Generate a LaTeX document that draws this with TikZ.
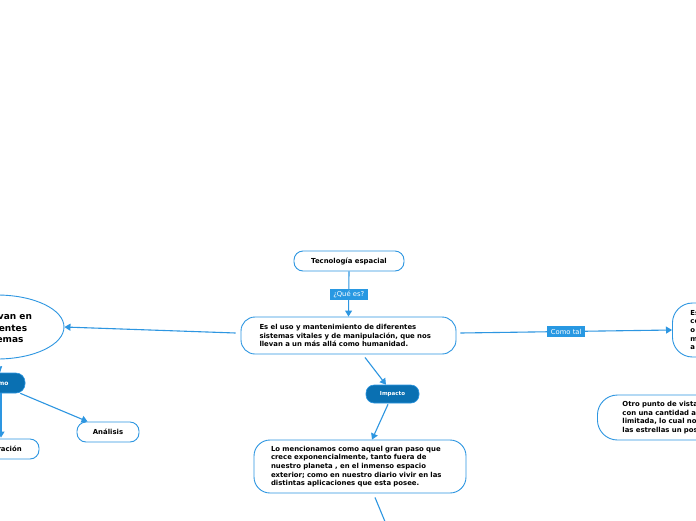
\documentclass[tikz,border=0pt]{standalone}
\usepackage{fontspec}
\setmainfont{DejaVu Sans}
\usetikzlibrary{arrows.meta,calc,shapes.geometric}
\definecolor{lb}{RGB}{45,150,225}
\definecolor{lbfill}{RGB}{40,152,226}
\definecolor{db}{RGB}{10,112,178}
\tikzset{
  box/.style={draw=lb,line width=0.9pt,rounded corners=9pt,fill=white,font=\bfseries\fontsize{6.9}{8.6}\selectfont,text=black,inner sep=0pt},
  dark/.style={draw=lb,line width=0.6pt,fill=db,rounded corners=8pt,text=white,font=\bfseries\fontsize{5.5}{7}\selectfont,inner sep=0pt},
  lab/.style={fill=lbfill,text=white,font=\fontsize{6.8}{7}\selectfont,inner sep=1.5pt,minimum height=11pt,minimum width=38pt},
  conn/.style={draw=lb,line width=1.1pt,-{Triangle[length=6pt,width=7pt]}},
  plain/.style={draw=lb,line width=1.1pt}
}
\begin{document}
\begin{tikzpicture}[x=1pt,y=-1pt]
\useasboundingbox (0,0) rectangle (696,520);
\clip (0,0) rectangle (696,520);
\fill[white] (0,0) rectangle (696,520);
% nodes
\node[box,minimum width=110pt,minimum height=20pt] (tec) at (349,261) {Tecnología espacial};
\node[box,rounded corners=14pt,minimum width=215pt,minimum height=37pt,text width=178pt,align=left] (main) at (348.5,335.5) {Es el uso y mantenimiento de diferentes\\sistemas vitales y de manipulación, que nos\\llevan a un más allá como humanidad.};
\node[draw=lb,line width=0.9pt,ellipse,minimum width=134pt,minimum height=64pt,inner sep=0pt,fill=white] (ell) at (-3,327) {};
\node[font=\bfseries\fontsize{9}{11.5}\selectfont,align=center,inner sep=0pt] (ellt) at (1,328) {Se llevan en\\diferentes\\sistemas};
\node[dark,minimum width=52pt,minimum height=20pt,rounded corners=9pt,font=\bfseries\fontsize{6}{7}\selectfont] (como) at (-1,383) {Como};
\node[box,minimum width=62pt,minimum height=20pt] (ana) at (108,432) {Análisis};
\node[box,minimum width=80pt,minimum height=20pt] (exp) at (-1,449) {Exploración};
\node[dark,minimum width=53pt,minimum height=18pt] (imp) at (392.5,394) {Impacto};
\node[box,rounded corners=16pt,minimum width=212pt,minimum height=53pt,text width=178pt,align=left] (bot) at (360,466.5) {Lo mencionamos como aquel gran paso que\\crece exponencialmente, tanto fuera de\\nuestro planeta , en el inmenso espacio\\exterior; como en nuestro diario vivir en las\\distintas aplicaciones que esta posee.};
\node[box,rounded corners=20pt,minimum width=200pt,minimum height=54pt,text width=164pt,align=left,anchor=west] (der) at (672,330) {Es\\como\\o\\m\\a};
\node[box,rounded corners=20pt,minimum width=220pt,minimum height=45pt,text width=170pt,align=left,anchor=west] (otro) at (597,417.5) {Otro punto de vista es\\con una cantidad aún\\limitada, lo cual no es\\las estrellas un posible};
% connectors
\draw[conn] (tec.south) -- (main.north) node[lab,pos=0.5] (que) {¿Qué es?};
\draw[conn] ($(main.west)+(-5,-2.5)$) -- (ell.east);
\draw[conn] ($(main.east)+(4,-2.5)$) -- (der.west) node[lab,pos=0.5] (ct) {Como tal};
\draw[conn] (ell.south) -- ($(como.north)+(1,0)$);
\draw[conn] ($(como.south east)+(-5,0)$) -- ($(ana.north west)+(11,0)$);
\draw[conn] ($(como.south)+(2,0)$) -- ($(exp.north)+(2,-1)$);
\draw[conn] ($(main.south)+(16.5,3)$) -- ($(imp.north)+(-6.5,0)$);
\draw[conn] ($(imp.south)+(-4.5,1)$) -- ($(bot.north)+(12,0)$);
\coordinate (offb) at (386,524);
\draw[plain] ($(bot.south)+(15,4)$) -- (offb);
\end{tikzpicture}
\end{document}
